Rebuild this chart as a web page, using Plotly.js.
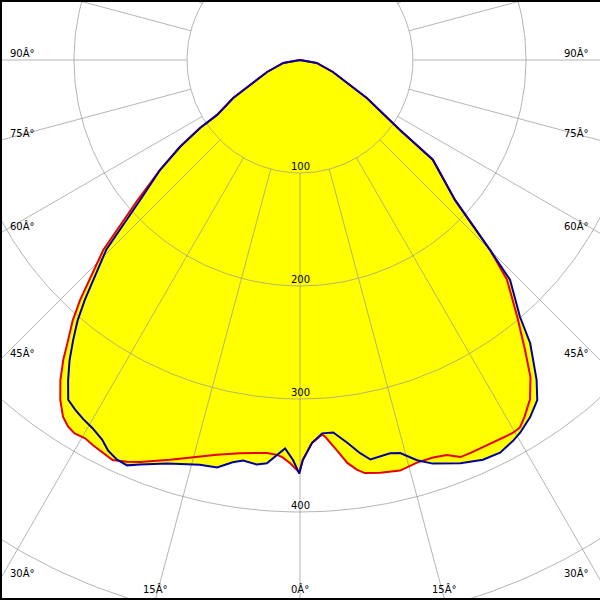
<!DOCTYPE html>
<html><head><meta charset="utf-8">
<script src="https://cdn.plot.ly/plotly-3.0.1.min.js"></script>
<style>html,body{margin:0;padding:0;background:#fff;overflow:hidden}#chart{width:600px;height:600px}</style>
</head><body><div id="chart"></div>
<script>
// Gamma angles (deg, 0 = straight down, + to the right) and intensities (cd/klm)
const redAngles=[-180,-90,-80,-70,-63.4,-60.4,-56.5,-55.8,-54.1,-51.8,-49.2,-46.0,-42.5,-41.1,-39.6,-38.3,-36.8,-35.2,-33.6,-32.3,-31.1,-29.6,-28.3,-26.6,-25.1,-23.3,-21.7,-18.0,-15.5,-11.9,-8.7,-4.8,-3.3,-2.5,-1.4,-0.1,0.4,1.8,3.4,3.8,5.4,6.7,7.9,8.9,11.0,13.7,16.2,18.5,20.4,22.0,23.4,25.3,27.4,29.7,30.9,32.2,33.3,34.1,36.0,37.8,40.2,43.3,45.0,47.9,53.1,55.0,60.4,63.4,70,80,90,180];
const redValues=[0,0,15,31,50,68,88,107,131,158,190,242,288,306,322,338,354,368,379,384,386,385,387,389,391,387,383,372,365,357,352,349,350,352,357,365,354,339,332,334,347,359,366,370,372,374,371,371,373,379,379,379,379,380,379,373,367,363,347,325,298,267,238,185,147,108,68,50,31,15,0,0];
const blueAngles=[-180,-90,-80,-70,-63.4,-60.4,-56.5,-55.8,-54.1,-51.8,-48.8,-45.6,-41.9,-40.5,-39.0,-37.5,-35.9,-34.3,-32.7,-31.2,-29.4,-27.5,-26.2,-24.6,-23.1,-21.6,-18.2,-13.9,-11.5,-9.5,-8.1,-6.1,-4.7,-3.3,-2.2,-1.0,-0.1,0.4,1.8,3.4,5.1,7.0,8.7,10.0,11.4,12.9,14.3,16.3,18.2,21.7,24.6,27.0,29.3,30.6,32.8,34.3,34.9,36.5,39.1,40.6,43.7,45.0,47.9,53.1,55.0,60.4,63.4,70,80,90,180];
const blueValues=[0,0,15,31,50,68,88,107,131,158,188,240,285,303,319,335,350,364,368,371,374,379,385,389,390,385,376,369,368,361,358,360,358,350,344,354,366,354,339,331,331,341,352,359,358,357,359,369,376,384,389,390,386,383,376,369,367,352,323,299,269,238,185,147,108,68,50,31,15,0,0];

const ringRadii=[100,200,300,400,500];
const ringLabels=['100','200','300','400'];
const spokeAngles=[-165,-150,-135,-120,-105,-90,-75,-60,-45,-30,-15,0,15,30,45,60,75,90,105,120,135,150,165,180];
const sideLabelAngles=[90,75,60,45,30];
const sideLabelTexts=['90Â°','75Â°','60Â°','45Â°','30Â°'];
const bottomLabelAngles=[-15,0,15];
const bottomLabelTexts=['15Â°','0Â°','15Â°'];

const PXU=1.13;                 // pixels per cd/klm
const XH=300/PXU, YT=60/PXU, YB=-540/PXU;
const rad=d=>d*Math.PI/180;
function toXY(angles,vals){
  const x=[],y=[];
  for(let i=0;i<angles.length;i++){x.push(vals[i]*Math.sin(rad(angles[i])));y.push(-vals[i]*Math.cos(rad(angles[i])));}
  return {x,y};
}
const red=toXY(redAngles,redValues), blue=toXY(blueAngles,blueValues);

const gx=[],gy=[];
ringRadii.forEach(r=>{for(let t=0;t<=360;t+=1){gx.push(r*Math.sin(rad(t)));gy.push(-r*Math.cos(rad(t)));}gx.push(null);gy.push(null);});
spokeAngles.forEach(a=>{[100,900].forEach(r=>{gx.push(r*Math.sin(rad(a)));gy.push(-r*Math.cos(rad(a)));});gx.push(null);gy.push(null);});

const font={family:'DejaVu Sans',size:10,color:'#000'};
const data=[
 {x:red.x,y:red.y,mode:'lines',fill:'toself',fillcolor:'#ffff00',line:{width:0},hoverinfo:'skip'},
 {x:blue.x,y:blue.y,mode:'lines',fill:'toself',fillcolor:'#ffff00',line:{width:0},hoverinfo:'skip'},
 {x:gx,y:gy,mode:'lines',line:{color:'rgba(150,150,150,0.7)',width:1},hoverinfo:'skip',connectgaps:false},
 {x:red.x,y:red.y,mode:'lines',line:{color:'#e60000',width:2},hoverinfo:'skip'},
 {x:blue.x,y:blue.y,mode:'lines',line:{color:'#0000a0',width:2},hoverinfo:'skip'}
];
const ann=[];
ringLabels.forEach((t,i)=>ann.push({x:0,y:-ringRadii[i],text:t,showarrow:false,font,yanchor:'middle',xanchor:'center',yshift:7}));
sideLabelAngles.forEach((a,i)=>{
  const yy=-XH*Math.cos(rad(a))/Math.sin(rad(a));
  ann.push({xref:'paper',x:0,y:yy,text:sideLabelTexts[i],showarrow:false,font,xanchor:'left',yanchor:'middle',xshift:8,yshift:7});
  ann.push({xref:'paper',x:1,y:yy,text:sideLabelTexts[i],showarrow:false,font,xanchor:'right',yanchor:'middle',xshift:-9,yshift:7});
});
bottomLabelAngles.forEach((a,i)=>{
  const xx=-YB*Math.tan(rad(a));
  ann.push({x:xx,yref:'paper',y:0,text:bottomLabelTexts[i],showarrow:false,font,xanchor:'center',yanchor:'middle',yshift:11});
});
const px=1/600;
const shapes=[
 {type:'line',xref:'paper',yref:'paper',x0:px,x1:px,y0:0,y1:1,line:{color:'#000',width:2},layer:'above'},
 {type:'line',xref:'paper',yref:'paper',x0:0,x1:1,y0:px,y1:px,line:{color:'#000',width:2},layer:'above'},
 {type:'line',xref:'paper',yref:'paper',x0:0,x1:1,y0:1-px,y1:1-px,line:{color:'#000',width:2},layer:'above'}
];
const layout={width:600,height:600,margin:{l:0,r:0,t:0,b:0},paper_bgcolor:'#fff',plot_bgcolor:'#fff',showlegend:false,hovermode:false,
 xaxis:{range:[-XH,XH],visible:false,fixedrange:true},
 yaxis:{range:[YB,YT],visible:false,fixedrange:true},
 annotations:ann,shapes};
Plotly.newPlot('chart',data,layout,{staticPlot:true,displayModeBar:false});
</script></body></html>
